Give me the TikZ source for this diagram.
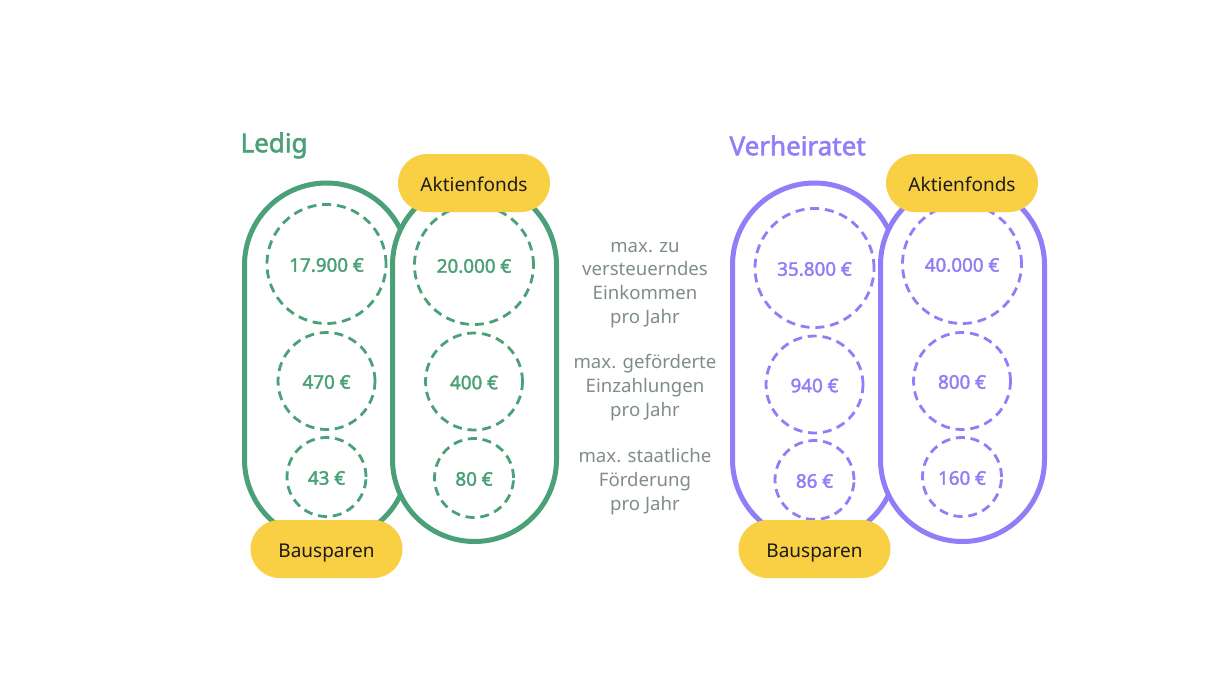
\documentclass[tikz,border=0pt]{standalone}
\usepackage{fontspec}
\setmainfont{Noto Sans}[BoldFont={Noto Sans},BoldFeatures={FakeBold=2}]
\usepackage{tikz}
\usetikzlibrary{positioning}
\definecolor{ledig}{HTML}{4AA077}
\definecolor{verh}{HTML}{8F7EF7}
\definecolor{pill}{HTML}{F9CF44}
\definecolor{note}{HTML}{7F8C87}
\definecolor{ink}{HTML}{1C1C1C}
\tikzset{
x=1pt, y=-1pt,
capsule/.style={draw, line width=5pt, fill=white, minimum width=164pt, minimum height=358.5pt, rounded corners=82pt},
tag/.style={fill=pill, text=ink, minimum width=152pt, minimum height=58pt, rounded corners=29pt, text height=19pt, text depth=2pt, font=\fontsize{19}{22}\selectfont},
big/.style={circle, draw, dashed, line width=2.8pt, dash pattern=on 9pt off 5.8pt, minimum size=119pt, text height=18pt, text depth=2.6pt, font=\fontsize{18.8}{22}\selectfont\bfseries},
mid/.style={big, minimum size=97pt},
small/.style={big, minimum size=79pt},
title/.style={anchor=west, font=\fontsize{26}{30}\selectfont\bfseries},
note/.style={text=note, align=center, font=\fontsize{18.6}{23.7}\selectfont},
}
\begin{document}
\begin{tikzpicture}
\useasboundingbox (0,0) rectangle (1228,682);
% Ledig
\node[title, text=ledig] (ledig) at (237,145.5) {Ledig};
\node[capsule, draw=ledig] (bauL) at (326.5,362.25) {};
\node[capsule, draw=ledig, right=-21pt of bauL] (aktL) {};
\node[big, draw=ledig, text=ledig] (a1) at (326.5,264) {17.900 €};
\node[mid, draw=ledig, text=ledig] (a2) at (326.5,381) {470 €};
\node[small, draw=ledig, text=ledig] (a3) at (326.5,477) {43 €};
\node[big, draw=ledig, text=ledig] (b1) at (474,265) {20.000 €};
\node[mid, draw=ledig, text=ledig] (b2) at (474,381.5) {400 €};
\node[small, draw=ledig, text=ledig] (b3) at (474,478) {80 €};
\node[tag] (tagAL) at (474,183) {Aktienfonds};
\node[tag] (tagBL) at (326.5,549) {Bausparen};
% Mitte
\node[note] (n1) at (645,285) {max. zu\\versteuerndes\\Einkommen\\pro Jahr};
\node[note] (n2) at (645,387.5) {max. geförderte\\Einzahlungen\\pro Jahr};
\node[note] (n3) at (645,481.5) {max. staatliche\\Förderung\\pro Jahr};
% Verheiratet
\node[title, text=verh] (verh) at (726,145.5) {Verheiratet};
\node[capsule, draw=verh] (bauV) at (814.5,362.25) {};
\node[capsule, draw=verh, right=-21pt of bauV] (aktV) {};
\node[big, draw=verh, text=verh] (c1) at (814.5,268) {35.800 €};
\node[mid, draw=verh, text=verh] (c2) at (814.5,384.5) {940 €};
\node[small, draw=verh, text=verh] (c3) at (814.5,480) {86 €};
\node[big, draw=verh, text=verh] (d1) at (962,264) {40.000 €};
\node[mid, draw=verh, text=verh] (d2) at (962,381) {800 €};
\node[small, draw=verh, text=verh] (d3) at (962,477) {160 €};
\node[tag] (tagAV) at (962,183) {Aktienfonds};
\node[tag] (tagBV) at (814.5,549) {Bausparen};
\end{tikzpicture}
\end{document}
